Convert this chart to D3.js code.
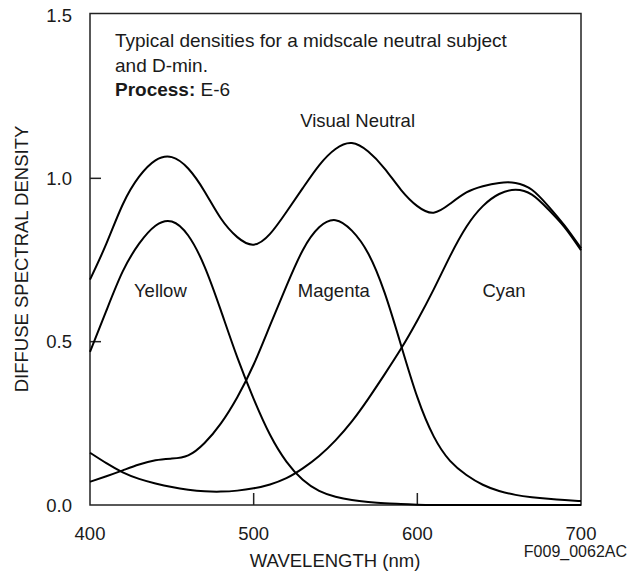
<!DOCTYPE html>
<html>
<head>
<meta charset="utf-8">
<script src="https://cdn.jsdelivr.net/npm/d3@7"></script>
<style>
  body { margin: 0; background: #fff; }
  svg text { font-family: "Liberation Sans", Arial, sans-serif; fill: #1a1a1a; }
  .curve { fill: none; stroke: #000; stroke-width: 2; }
</style>
</head>
<body>
<div id="chart"></div>
<script>
// wavelengths (nm) sampled every 10 nm
const wavelengths = d3.range(400, 701, 10);

// diffuse spectral density
const visualNeutral = [0.69, 0.80, 0.92, 1.005, 1.055, 1.065, 1.03, 0.96, 0.877, 0.82, 0.797,
  0.83, 0.897, 0.97, 1.04, 1.09, 1.108, 1.082, 1.03, 0.965, 0.915, 0.895, 0.922, 0.957,
  0.976, 0.986, 0.986, 0.965, 0.915, 0.855, 0.786];
const yellow = [0.469, 0.595, 0.715, 0.80, 0.855, 0.868, 0.825, 0.73, 0.595, 0.452, 0.325,
  0.215, 0.133, 0.077, 0.043, 0.025, 0.015, 0.009, 0.005, 0.003, 0.001, 0, 0, 0,
  0, 0, 0, 0, 0, 0, 0];
const magenta = [0.071, 0.088, 0.106, 0.124, 0.137, 0.142, 0.152, 0.19, 0.25, 0.33, 0.43,
  0.55, 0.67, 0.78, 0.85, 0.872, 0.84, 0.77, 0.65, 0.49, 0.33, 0.21, 0.135, 0.092,
  0.062, 0.043, 0.031, 0.024, 0.019, 0.015, 0.012];
const cyan = [0.16, 0.128, 0.10, 0.08, 0.066, 0.055, 0.047, 0.042, 0.041, 0.044, 0.051,
  0.063, 0.082, 0.112, 0.15, 0.198, 0.256, 0.325, 0.40, 0.478, 0.565, 0.66, 0.762, 0.852,
  0.915, 0.952, 0.965, 0.95, 0.905, 0.85, 0.78];

const series = [visualNeutral, yellow, magenta, cyan];
const xTicks = [400, 500, 600, 700];
const yTicks = [0.0, 0.5, 1.0, 1.5];

const labels = [
  {text: "Visual Neutral", w: 563.5, d: 1.158},
  {text: "Yellow", w: 443, d: 0.637},
  {text: "Magenta", w: 549, d: 0.637},
  {text: "Cyan", w: 653, d: 0.637}
];

const width = 641, height = 572;
const margin = {top: 15, right: 60, bottom: 67, left: 90};

const svg = d3.select("#chart").append("svg")
    .attr("width", width)
    .attr("height", height);

const x = d3.scaleLinear().domain([400, 700]).range([margin.left, width - margin.right]);
const y = d3.scaleLinear().domain([0, 1.5]).range([height - margin.bottom, margin.top]);

// frame
svg.append("rect")
    .attr("x", x(400)).attr("y", y(1.5) - 1.5)
    .attr("width", x(700) - x(400)).attr("height", y(0) - y(1.5) + 1.5)
    .attr("fill", "none").attr("stroke", "#222").attr("stroke-width", 1.5);

// inner ticks
svg.selectAll(".ytick").data(yTicks.filter(d => d > 0 && d < 1.5)).enter().append("line")
    .attr("x1", x(400)).attr("x2", x(400) + 11)
    .attr("y1", d => y(d)).attr("y2", d => y(d))
    .attr("stroke", "#222").attr("stroke-width", 1.5);
svg.selectAll(".xtick").data(xTicks.filter(d => d > 400 && d < 700)).enter().append("line")
    .attr("x1", d => x(d)).attr("x2", d => x(d))
    .attr("y1", y(0)).attr("y2", y(0) - 12)
    .attr("stroke", "#222").attr("stroke-width", 1.5);

// tick labels
svg.selectAll(".ylab").data(yTicks).enter().append("text")
    .attr("x", 72).attr("y", d => y(d) + 6.5)
    .attr("text-anchor", "end").style("font-size", "18.5px")
    .text(d => d.toFixed(1));
svg.selectAll(".xlab").data(xTicks).enter().append("text")
    .attr("x", d => x(d)).attr("y", 540)
    .attr("text-anchor", "middle").style("font-size", "18.5px")
    .text(d => d);

// axis titles
svg.append("text")
    .attr("x", 335).attr("y", 567)
    .attr("text-anchor", "middle").style("font-size", "18.5px")
    .text("WAVELENGTH (nm)");
svg.append("text")
    .attr("transform", "translate(28,259) rotate(-90)")
    .attr("text-anchor", "middle").style("font-size", "18.5px")
    .text("DIFFUSE SPECTRAL DENSITY");
svg.append("text")
    .attr("x", 627).attr("y", 557)
    .attr("text-anchor", "end").style("font-size", "16px")
    .text("F009_0062AC");

// curves
const line = d3.line()
    .x((d, i) => x(wavelengths[i]))
    .y(d => y(d))
    .curve(d3.curveNatural);

svg.selectAll(".curve").data(series).enter().append("path")
    .attr("class", "curve")
    .attr("d", line);

// curve labels
svg.selectAll(".clab").data(labels).enter().append("text")
    .attr("x", d => x(d.w)).attr("y", d => y(d.d))
    .attr("text-anchor", "middle").style("font-size", "18.5px")
    .text(d => d.text);

// note block
const note = svg.append("text").style("font-size", "19px");
note.append("tspan").attr("x", 115).attr("y", 47).text("Typical densities for a midscale neutral subject");
note.append("tspan").attr("x", 115).attr("y", 71.5).text("and D-min.");
const p = note.append("tspan").attr("x", 115).attr("y", 96);
p.append("tspan").style("font-weight", "bold").text("Process:");
p.append("tspan").text(" E-6");
</script>
</body>
</html>
